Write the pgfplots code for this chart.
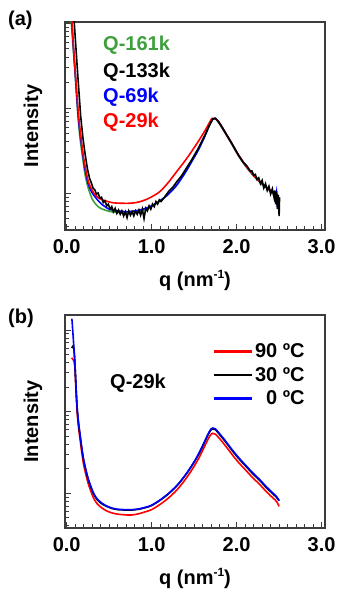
\documentclass[border=0pt]{standalone}
\usepackage{pgfplots}
\pgfplotsset{compat=1.18}
\usepackage{fontspec}
\setmainfont{Liberation Sans}
\setsansfont{Liberation Sans}
\definecolor{qgreen}{RGB}{60,160,60}
\definecolor{qred}{RGB}{255,0,0}
\definecolor{qblue}{RGB}{0,0,255}
\definecolor{frame}{RGB}{60,60,60}
\newcommand{\bigf}{\bfseries\fontsize{20bp}{22bp}\selectfont}
\begin{document}
\begin{tikzpicture}[x=1bp,y=1bp]
\path[use as bounding box] (0,0) rectangle (337,590);
\pgfplotsset{myax/.style={
  scale only axis, anchor=south west, width=260bp,
  xmin=-0.02, xmax=3.04, xtick={0,1,2,3}, xticklabels={0.0,1.0,2.0,3.0},
  minor x tick num=9,
  ytick={0,1,2}, yticklabels={},
  tick pos=left, tick align=inside,
  major tick length=6bp, minor tick length=3.5bp,
  axis line style={draw=frame, line width=1.3bp},
  every tick/.style={frame, line width=0.9bp},
  ticklabel style={font=\bigf},
  xticklabel style={anchor=center, yshift=-17bp},
  xlabel={q (nm\raisebox{0.75ex}{\fontsize{12bp}{12bp}\selectfont -1})},
  ylabel={Intensity},
  label style={font=\bigf},
  xlabel style={at={(axis description cs:0.5,0)}, anchor=center, yshift=-50bp},
  ylabel style={at={(axis description cs:-0.123,0.5)}, anchor=center},
  minor ytick={-0.398,-0.301,-0.222,-0.155,-0.097,-0.046,0.301,0.477,0.602,0.699,0.778,0.845,0.903,0.954,1.301,1.477,1.602,1.699,1.778,1.845,1.903,1.954},
  every axis plot/.append style={line width=1.6bp},
}}
% ---------------- panel (a) ----------------
\begin{axis}[myax, at={(65bp,360bp)}, height=208bp, ymin=-0.435, ymax=2.015]
\addplot[qgreen, smooth] coordinates {
(0.045,2.20)(0.055,2.00)(0.08,1.66)(0.10,1.38)(0.12,1.08)(0.138,0.84)(0.16,0.62)(0.19,0.40)(0.216,0.22)(0.25,0.07)(0.30,-0.07)(0.35,-0.14)(0.40,-0.18)(0.50,-0.215)(0.60,-0.23)(0.70,-0.235)(0.80,-0.225)(0.90,-0.20)(1.00,-0.155)(1.10,-0.09)(1.20,-0.01)(1.30,0.10)(1.40,0.25)(1.47,0.37)(1.55,0.51)(1.63,0.68)(1.68,0.80)(1.72,0.87)(1.75,0.875)(1.78,0.84)(1.82,0.78)(1.88,0.68)(1.94,0.58)(2.02,0.44)(2.11,0.31)(2.20,0.20)(2.30,0.10)(2.40,0.02)(2.46,-0.04)(2.50,-0.07)};
\addplot[qblue, smooth] coordinates {
(0.050,2.20)(0.06,2.02)(0.08,1.70)(0.10,1.42)(0.12,1.12)(0.138,0.88)(0.16,0.68)(0.19,0.45)(0.216,0.28)(0.25,0.12)(0.29,0.02)(0.33,-0.04)(0.40,-0.12)(0.50,-0.19)(0.60,-0.21)(0.70,-0.22)(0.80,-0.21)(0.90,-0.19)(1.00,-0.15)(1.10,-0.09)(1.20,-0.01)(1.30,0.10)(1.40,0.25)(1.47,0.37)(1.55,0.51)(1.63,0.68)(1.68,0.80)(1.72,0.87)(1.75,0.88)(1.78,0.85)(1.82,0.79)(1.88,0.69)(1.94,0.59)(2.02,0.45)(2.11,0.32)(2.20,0.21)(2.30,0.11)(2.40,0.03)(2.44,0.00)(2.46,-0.10)(2.47,0.01)(2.48,-0.15)(2.50,-0.05)};
\addplot[qred, smooth] coordinates {
(0.050,2.20)(0.062,2.02)(0.08,1.72)(0.10,1.44)(0.12,1.16)(0.145,0.86)(0.17,0.64)(0.195,0.44)(0.225,0.27)(0.26,0.12)(0.32,0.00)(0.38,-0.06)(0.45,-0.09)(0.55,-0.115)(0.65,-0.12)(0.75,-0.12)(0.85,-0.105)(0.95,-0.07)(1.00,-0.045)(1.10,0.02)(1.20,0.13)(1.30,0.26)(1.40,0.39)(1.47,0.49)(1.55,0.61)(1.63,0.74)(1.68,0.83)(1.71,0.88)(1.74,0.88)(1.78,0.85)(1.82,0.79)(1.88,0.69)(1.94,0.59)(2.02,0.45)(2.11,0.32)(2.20,0.21)(2.30,0.11)(2.40,0.03)(2.46,-0.03)(2.50,-0.06)};
\addplot[black] coordinates {
(0.080,2.15)(0.088,2.02)(0.100,1.84)(0.120,1.54)(0.140,1.25)(0.165,0.90)(0.190,0.66)(0.215,0.47)(0.245,0.28)(0.27,0.17)(0.29,0.12)(0.31,0.06)(0.33,0.04)(0.35,-0.01)(0.37,0.00)(0.39,-0.06)(0.41,-0.05)(0.43,-0.11)(0.45,-0.09)(0.47,-0.15)(0.49,-0.13)(0.51,-0.19)(0.53,-0.16)(0.55,-0.22)(0.57,-0.18)(0.59,-0.24)(0.61,-0.20)(0.63,-0.25)(0.65,-0.21)(0.67,-0.27)(0.69,-0.22)(0.71,-0.29)(0.73,-0.21)(0.75,-0.26)(0.77,-0.22)(0.79,-0.27)(0.81,-0.21)(0.83,-0.25)(0.85,-0.20)(0.87,-0.26)(0.89,-0.19)(0.91,-0.30)(0.93,-0.18)(0.95,-0.21)(0.97,-0.15)(0.99,-0.19)(1.01,-0.13)(1.03,-0.16)(1.05,-0.10)(1.07,-0.13)(1.09,-0.08)(1.11,-0.10)(1.15,-0.05)(1.20,0.02)(1.25,0.07)(1.30,0.14)(1.35,0.20)(1.40,0.28)(1.47,0.39)(1.55,0.53)(1.63,0.69)(1.68,0.80)(1.72,0.875)(1.75,0.88)(1.78,0.85)(1.82,0.79)(1.88,0.69)(1.94,0.59)(2.02,0.45)(2.08,0.36)(2.12,0.32)(2.16,0.26)(2.18,0.26)(2.20,0.21)(2.22,0.22)(2.24,0.16)(2.26,0.18)(2.28,0.11)(2.30,0.15)(2.32,0.06)(2.34,0.11)(2.36,0.03)(2.38,0.08)(2.40,-0.01)(2.42,0.05)(2.44,-0.05)(2.45,0.03)(2.46,-0.13)(2.47,0.02)(2.48,-0.19)(2.49,-0.02)(2.50,-0.27)(2.505,-0.05)};
\end{axis}
% ---------------- panel (b) ----------------
\begin{axis}[myax, at={(65bp,62bp)}, height=213bp, ymin=-0.425, ymax=2.185,
  legend cell align=right,
  legend style={at={(axis description cs:0.93,0.875)}, anchor=north east, draw=none, fill=none, font=\bigf, row sep=4bp, inner sep=0pt},
  legend image code/.code={\draw[#1, line width=2.6bp] (0bp,0bp) -- (38bp,0bp);}]
\addplot[qred, smooth] coordinates {
(0.058,1.66)(0.08,1.63)(0.095,1.55)(0.11,1.24)(0.123,0.99)(0.14,0.80)(0.161,0.63)(0.18,0.48)(0.20,0.35)(0.23,0.21)(0.259,0.10)(0.29,0.01)(0.317,-0.06)(0.36,-0.13)(0.415,-0.18)(0.47,-0.215)(0.532,-0.24)(0.60,-0.255)(0.70,-0.265)(0.77,-0.265)(0.85,-0.25)(0.93,-0.225)(1.00,-0.20)(1.10,-0.135)(1.20,-0.055)(1.30,0.045)(1.40,0.175)(1.49,0.315)(1.56,0.44)(1.62,0.57)(1.67,0.675)(1.70,0.725)(1.72,0.735)(1.75,0.725)(1.80,0.67)(1.87,0.58)(1.95,0.47)(2.03,0.37)(2.11,0.28)(2.19,0.19)(2.27,0.11)(2.35,0.02)(2.42,-0.05)(2.47,-0.10)(2.50,-0.16)};
\addlegendentry{90 ºC}
\addplot[black, smooth] coordinates {
(0.060,1.78)(0.08,1.80)(0.095,1.62)(0.11,1.29)(0.123,1.04)(0.14,0.85)(0.161,0.68)(0.18,0.53)(0.20,0.40)(0.23,0.26)(0.259,0.15)(0.29,0.06)(0.317,-0.01)(0.36,-0.08)(0.415,-0.13)(0.47,-0.16)(0.532,-0.185)(0.60,-0.20)(0.70,-0.205)(0.77,-0.205)(0.85,-0.195)(0.93,-0.175)(1.00,-0.15)(1.10,-0.085)(1.20,-0.005)(1.30,0.095)(1.40,0.225)(1.49,0.365)(1.56,0.49)(1.62,0.62)(1.67,0.73)(1.70,0.78)(1.72,0.79)(1.75,0.78)(1.80,0.72)(1.87,0.63)(1.95,0.52)(2.03,0.42)(2.11,0.33)(2.19,0.24)(2.27,0.16)(2.35,0.07)(2.42,0.00)(2.47,-0.05)(2.50,-0.09)};
\addlegendentry{30 ºC}
\addplot[qblue, smooth] coordinates {
(0.060,2.14)(0.064,2.10)(0.08,1.86)(0.095,1.63)(0.11,1.30)(0.123,1.05)(0.14,0.86)(0.161,0.69)(0.18,0.54)(0.20,0.41)(0.23,0.27)(0.259,0.16)(0.29,0.07)(0.317,0.00)(0.36,-0.07)(0.415,-0.12)(0.47,-0.155)(0.532,-0.18)(0.60,-0.195)(0.70,-0.20)(0.77,-0.20)(0.85,-0.19)(0.93,-0.17)(1.00,-0.145)(1.10,-0.08)(1.20,0.00)(1.30,0.10)(1.40,0.23)(1.49,0.37)(1.56,0.50)(1.62,0.63)(1.67,0.74)(1.70,0.79)(1.72,0.80)(1.75,0.79)(1.80,0.73)(1.87,0.64)(1.95,0.53)(2.03,0.43)(2.11,0.34)(2.19,0.25)(2.27,0.17)(2.35,0.08)(2.42,0.01)(2.47,-0.04)(2.50,-0.09)};
\addlegendentry{0 ºC}
\end{axis}
% ---------------- text ----------------
\node[anchor=west, font=\bigf, inner sep=0pt] at (8,570) {(a)};
\node[anchor=west, font=\bigf, inner sep=0pt] at (8,272) {(b)};
\node[anchor=west, font=\bigf, inner sep=0pt, text=qgreen] at (103,545) {Q-161k};
\node[anchor=west, font=\bigf, inner sep=0pt, text=black] at (103,518) {Q-133k};
\node[anchor=west, font=\bigf, inner sep=0pt, text=qblue] at (103,493) {Q-69k};
\node[anchor=west, font=\bigf, inner sep=0pt, text=qred] at (103,468) {Q-29k};
\node[anchor=west, font=\bigf, inner sep=0pt] at (110,207) {Q-29k};
\end{tikzpicture}
\end{document}
